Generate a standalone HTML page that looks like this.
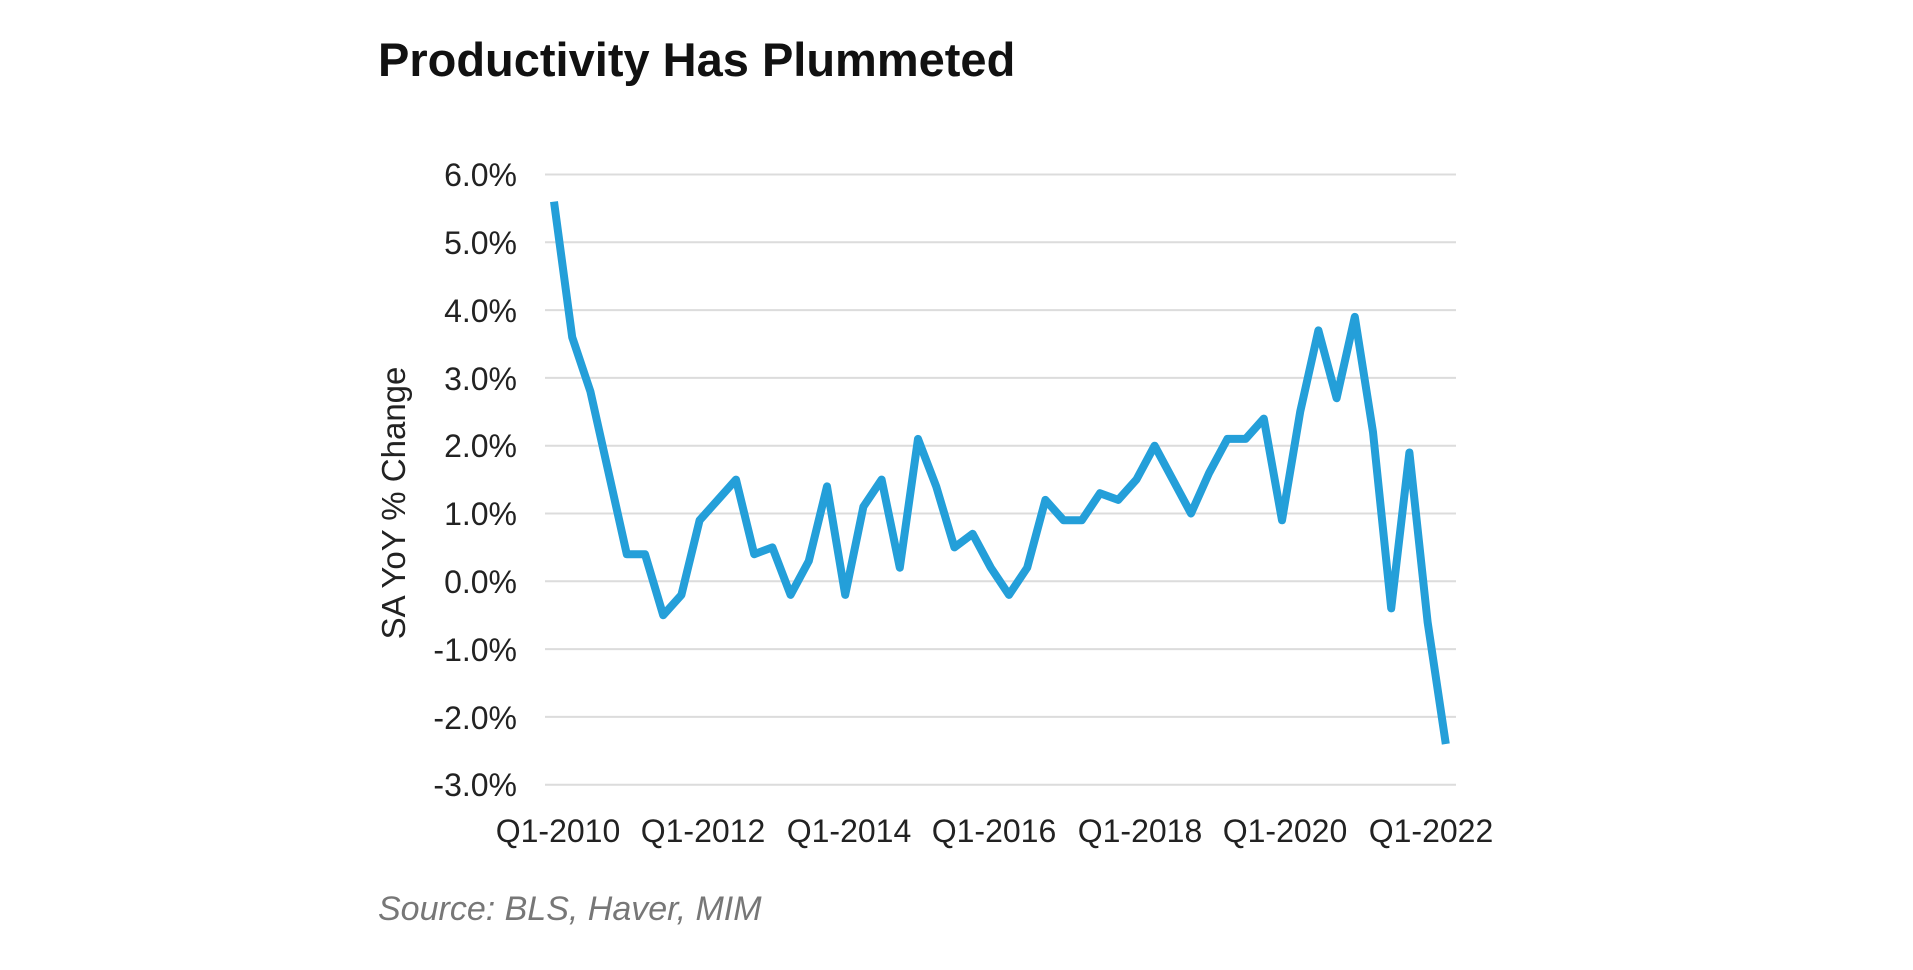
<!DOCTYPE html>
<html><head><style>
html,body{margin:0;padding:0;background:#fff;}
</style></head><body>
<svg width="1913" height="965" xmlns="http://www.w3.org/2000/svg" font-family="Liberation Sans, sans-serif">
<text x="378" y="76" font-size="47" font-weight="bold" fill="#111">Productivity Has Plummeted</text>
<g stroke="#dcdcdc" stroke-width="2">
<line x1="545" x2="1456" y1="174.5" y2="174.5"/>
<line x1="545" x2="1456" y1="242.3" y2="242.3"/>
<line x1="545" x2="1456" y1="310.1" y2="310.1"/>
<line x1="545" x2="1456" y1="377.9" y2="377.9"/>
<line x1="545" x2="1456" y1="445.7" y2="445.7"/>
<line x1="545" x2="1456" y1="513.5" y2="513.5"/>
<line x1="545" x2="1456" y1="581.3" y2="581.3"/>
<line x1="545" x2="1456" y1="649.1" y2="649.1"/>
<line x1="545" x2="1456" y1="716.9" y2="716.9"/>
<line x1="545" x2="1456" y1="784.7" y2="784.7"/>
</g>
<g font-size="32" fill="#222" text-anchor="end">
<text x="517" y="186">6.0%</text>
<text x="517" y="254">5.0%</text>
<text x="517" y="322">4.0%</text>
<text x="517" y="390">3.0%</text>
<text x="517" y="457">2.0%</text>
<text x="517" y="525">1.0%</text>
<text x="517" y="593">0.0%</text>
<text x="517" y="661">-1.0%</text>
<text x="517" y="729">-2.0%</text>
<text x="517" y="796">-3.0%</text>
</g>
<g font-size="32" fill="#222" text-anchor="middle">
<text x="558" y="842">Q1-2010</text>
<text x="703" y="842">Q1-2012</text>
<text x="849" y="842">Q1-2014</text>
<text x="994" y="842">Q1-2016</text>
<text x="1140" y="842">Q1-2018</text>
<text x="1285" y="842">Q1-2020</text>
<text x="1431" y="842">Q1-2022</text>
</g>
<text transform="translate(405,503) rotate(-90)" font-size="33" fill="#222" text-anchor="middle">SA YoY % Change</text>
<text x="378" y="920" font-size="34" font-style="italic" fill="#777">Source: BLS, Haver, MIM</text>
<polyline id="p" fill="none" stroke="#249fd9" stroke-width="8" stroke-linejoin="round" points=""/>
<script>
var d=[5.6,3.6,2.8,1.6,0.4,0.4,-0.5,-0.2,0.9,1.2,1.5,0.4,0.5,-0.2,0.3,1.4,-0.2,1.1,1.5,0.2,2.1,1.4,0.5,0.7,0.2,-0.2,0.2,1.2,0.9,0.9,1.3,1.2,1.5,2.0,1.5,1.0,1.6,2.1,2.1,2.4,0.9,2.5,3.7,2.7,3.9,2.2,-0.4,1.9,-0.6,-2.4];
document.getElementById('p').setAttribute('points',d.map(function(v,i){return (554+i*18.2).toFixed(1)+','+(174.5+(6-v)*67.8).toFixed(1)}).join(' '));
</script>
</svg>
</body></html>
